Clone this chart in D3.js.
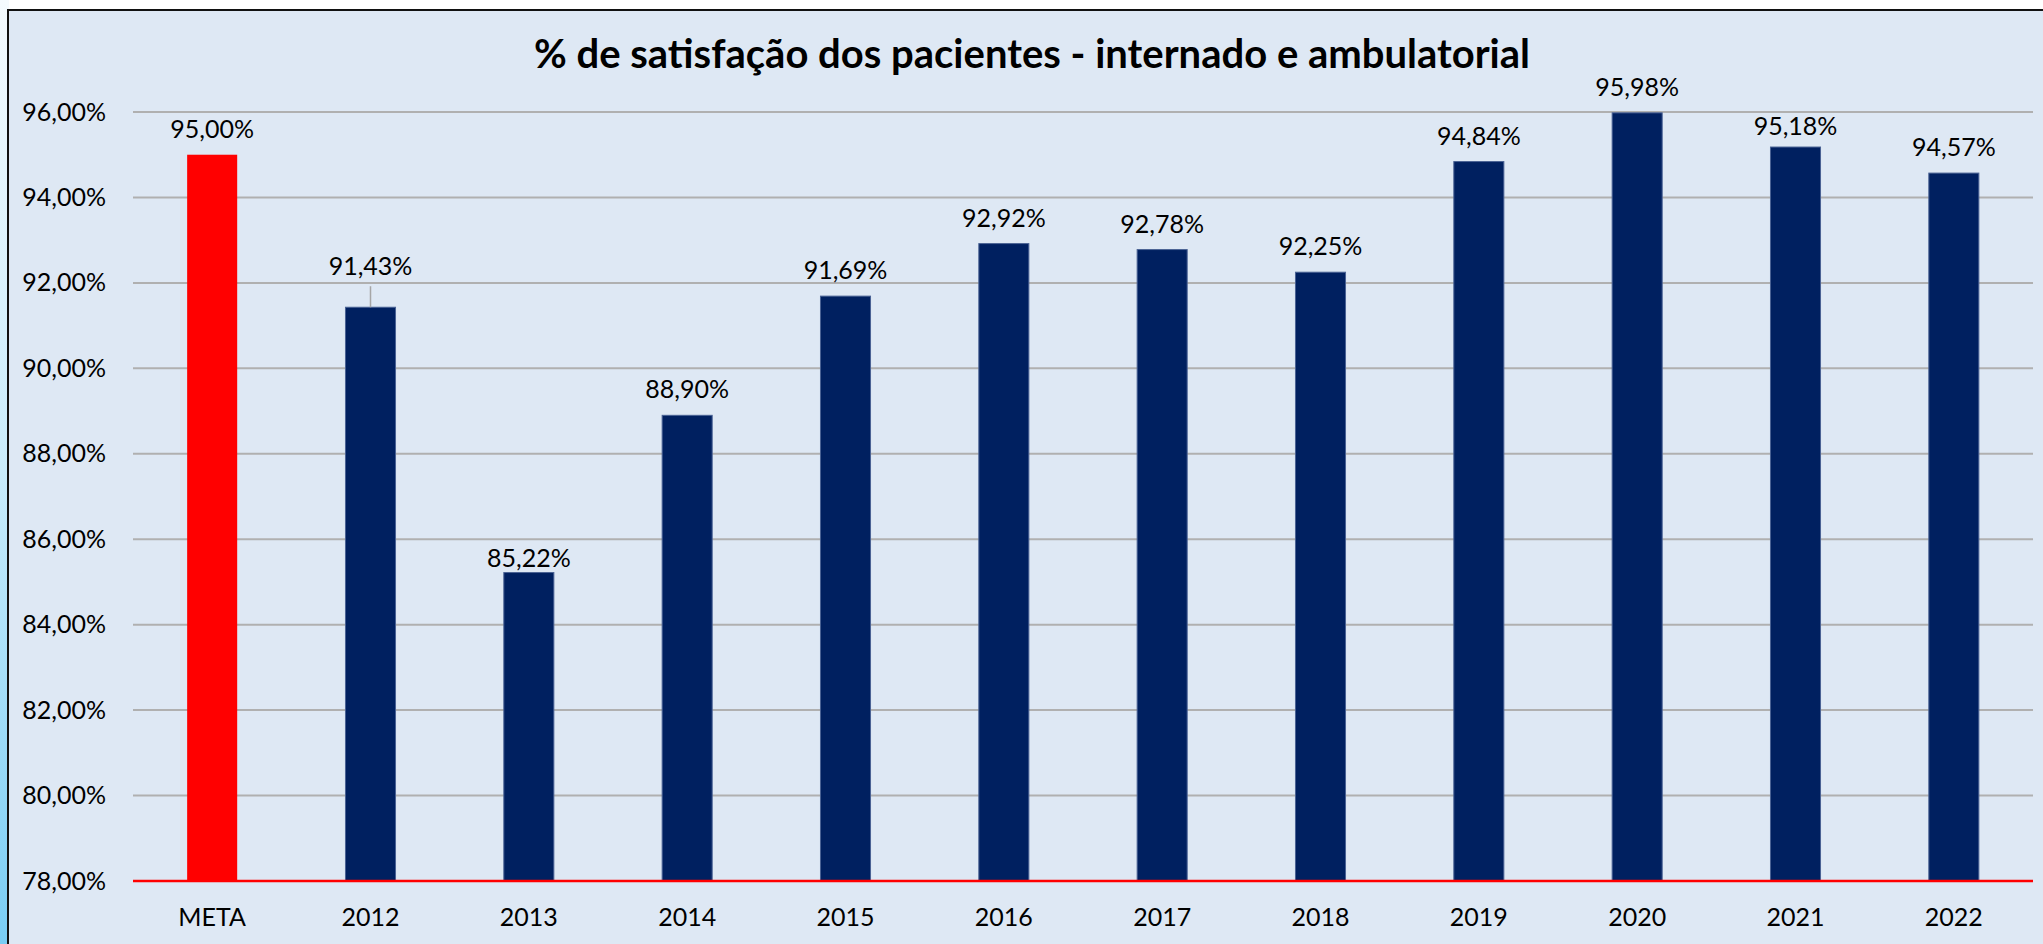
<!DOCTYPE html>
<meta charset="utf-8">
<title>% de satisfação dos pacientes</title>
<style>
body {
  margin: 0;
  background: #fff;
}
svg {
  display: block;
  font-family: Lato, "Open Sans", sans-serif;
}
.tick line { display: none; }
.domain { display: none; }
</style>
<body>
<script src="https://d3js.org/d3.v7.min.js"></script>
<script>

// chart data
var categories = ["META", "2012", "2013", "2014", "2015", "2016", "2017", "2018", "2019", "2020", "2021", "2022"];
var values = [95.00, 91.43, 85.22, 88.90, 91.69, 92.92, 92.78, 92.25, 94.84, 95.98, 95.18, 94.57];
var yTicks = [78, 80, 82, 84, 86, 88, 90, 92, 94, 96];
var title = "% de satisfação dos pacientes - internado e ambulatorial";

var width = 2043,
    height = 944;

var margin = {left: 133, right: 10, top: 112, bottom: 63};

var svg = d3.select("body").append("svg")
    .attr("width", width)
    .attr("height", height);

// light blue strip on the far left
var defs = svg.append("defs");
var grad = defs.append("linearGradient")
    .attr("id", "edge")
    .attr("x1", 0).attr("y1", 0).attr("x2", 0).attr("y2", 1);
grad.append("stop").attr("offset", "0%").attr("stop-color", "#f4fafe");
grad.append("stop").attr("offset", "50%").attr("stop-color", "#c9ecfb");
grad.append("stop").attr("offset", "100%").attr("stop-color", "#79cdf4");

svg.append("rect")
    .attr("x", 0).attr("y", 0)
    .attr("width", 9).attr("height", height)
    .attr("fill", "url(#edge)");

// chart area
svg.append("rect")
    .attr("x", 8).attr("y", 10)
    .attr("width", width).attr("height", height)
    .attr("fill", "#dee8f4")
    .attr("stroke", "#111")
    .attr("stroke-width", 2);

var x = d3.scaleBand()
    .domain(categories)
    .range([margin.left, width - margin.right])
    .paddingInner(0.684)
    .paddingOuter(0.342);

var y = d3.scaleLinear()
    .domain([78, 96])
    .range([height - margin.bottom, margin.top]);

// gridlines
svg.append("g")
    .selectAll("line")
    .data(yTicks.filter(function(d) { return d > 78; }))
  .enter().append("line")
    .attr("x1", margin.left)
    .attr("x2", width - margin.right)
    .attr("y1", function(d) { return y(d); })
    .attr("y2", function(d) { return y(d); })
    .attr("stroke", "#b0b0b0")
    .attr("stroke-width", 2);

// y axis labels
var fmt = function(v, digits) {
  return v.toFixed(digits).replace(".", ",") + "%";
};

var yAxis = d3.axisLeft(y)
    .tickValues(yTicks)
    .tickSize(0)
    .tickPadding(27)
    .tickFormat(function(d) { return fmt(d, 2); });

svg.append("g")
    .attr("transform", "translate(" + margin.left + ",0)")
    .call(yAxis)
    .call(function(g) {
      g.selectAll("text")
        .attr("font-size", 25)
        .attr("font-family", "Lato, 'Open Sans', sans-serif")
        .attr("fill", "#000");
    });

// bars
svg.append("g")
    .selectAll("rect")
    .data(values)
  .enter().append("rect")
    .attr("x", function(d, i) { return x(categories[i]); })
    .attr("y", function(d) { return y(d); })
    .attr("width", x.bandwidth())
    .attr("height", function(d) { return y(78) - y(d); })
    .attr("fill", function(d, i) { return i === 0 ? "#ff0000" : "#002060"; })
    .attr("stroke", function(d, i) { return i === 0 ? "none" : "#4a6294"; })
    .attr("stroke-width", 1);

// leader line for the 2012 label
svg.append("line")
    .attr("x1", x("2012") + x.bandwidth() / 2)
    .attr("x2", x("2012") + x.bandwidth() / 2)
    .attr("y1", y(values[1]))
    .attr("y2", y(values[1]) - 21)
    .attr("stroke", "#a6a6a6")
    .attr("stroke-width", 1.5);

// data labels
svg.append("g")
    .selectAll("text")
    .data(values)
  .enter().append("text")
    .attr("x", function(d, i) { return x(categories[i]) + x.bandwidth() / 2; })
    .attr("y", function(d, i) {
      if (categories[i] === "2012") return y(d) - 32;
      if (categories[i] === "2013") return y(d) - 6;
      if (categories[i] === "2021") return y(d) - 12;
      return y(d) - 17;
    })
    .attr("text-anchor", "middle")
    .attr("font-size", 25)
    .attr("fill", "#000")
    .text(function(d) { return fmt(d, 2); });

// base line (red)
svg.append("line")
    .attr("x1", margin.left)
    .attr("x2", width - margin.right)
    .attr("y1", y(78))
    .attr("y2", y(78))
    .attr("stroke", "#ff0000")
    .attr("stroke-width", 2.5);

// x axis labels
var xAxis = d3.axisBottom(x)
    .tickSize(0)
    .tickPadding(27);

svg.append("g")
    .attr("transform", "translate(0," + y(78) + ")")
    .call(xAxis)
    .call(function(g) {
      g.selectAll("text")
        .attr("font-size", 25)
        .attr("font-family", "Lato, 'Open Sans', sans-serif")
        .attr("fill", "#000");
    });

// title
svg.append("text")
    .attr("x", 1032)
    .attr("y", 68)
    .attr("text-anchor", "middle")
    .attr("font-size", 40)
    .attr("font-weight", "bold")
    .attr("fill", "#000")
    .text(title);

</script>
